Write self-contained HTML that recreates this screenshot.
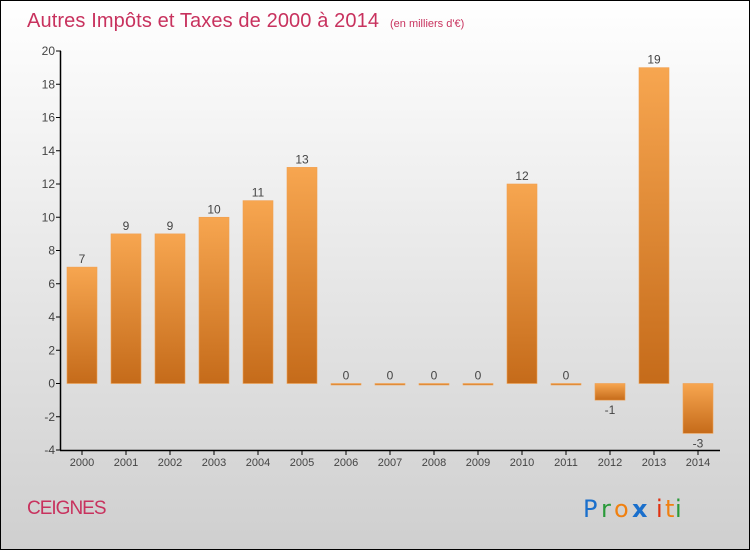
<!DOCTYPE html>
<html><head><meta charset="utf-8"><style>
html,body{margin:0;padding:0}
body{width:750px;height:550px;overflow:hidden;font-family:"Liberation Sans",sans-serif}
</style></head><body>
<svg width="750" height="550" xmlns="http://www.w3.org/2000/svg">
<defs>
<linearGradient id="bg" x1="0" y1="0" x2="0" y2="1"><stop offset="0" stop-color="#ffffff"/><stop offset="1" stop-color="#cfcfcf"/></linearGradient>
<linearGradient id="bar" x1="0" y1="0" x2="0" y2="1"><stop offset="0" stop-color="#f7a650"/><stop offset="1" stop-color="#c56b1a"/></linearGradient>
</defs>
<rect x="0.5" y="0.5" width="749" height="549" fill="url(#bg)" stroke="#000"/>
<text x="27" y="27" font-size="20" fill="#c8325e" textLength="352">Autres Impôts et Taxes de 2000 à 2014</text>
<text x="390" y="27" font-size="11" fill="#c8325e">(en milliers d'€)</text>
<g id="plot"></g>
<text x="27" y="514" font-size="19" fill="#c8325e" letter-spacing="-1">CEIGNES</text>
<g font-size="24" font-family="'DejaVu Sans',sans-serif">
<text x="583" y="517" fill="#1a6fcc">P</text><text x="601" y="517" fill="#2a9a3a">r</text><text x="614" y="517" fill="#f08010">o</text><text x="632" y="517" fill="#1a6fcc" font-weight="bold">x</text><text x="656" y="517" fill="#e03010">i</text><text x="665" y="517" fill="#f08010">t</text><text x="675" y="517" fill="#2a9a3a">i</text>
</g>
</svg>
<script>
const categories=["2000","2001","2002","2003","2004","2005","2006","2007","2008","2009","2010","2011","2012","2013","2014"];
const values=[7,9,9,10,11,13,0,0,0,0,12,0,-1,19,-3];
const yTicks=[-4,-2,0,2,4,6,8,10,12,14,16,18,20];
const NS="http://www.w3.org/2000/svg";
const g=document.getElementById('plot');
const y=v=>450-(v+4)*16.625;
const x=i=>82+i*44;
function mk(t,a){const e=document.createElementNS(NS,t);for(const k in a)e.setAttribute(k,a[k]);g.appendChild(e);return e;}
values.forEach((v,i)=>{
 const top=Math.min(y(v),y(0)),h=Math.max(Math.abs(y(v)-y(0)),1.5);
 const r=mk('rect',{x:x(i)-15,y:top,width:30,height:h,fill:'url(#bar)',stroke:'#f0a050','stroke-width':0.6});
 
 
 const t=mk('text',{x:x(i),y:v>=0?y(v)-4:y(v)+14,'font-size':12,fill:'#444','text-anchor':'middle'});
 t.textContent=v;
 
 
 const tl=mk('line',{x1:x(i),x2:x(i),y1:450,y2:455,stroke:'#000'});
 
 
 const xl=mk('text',{x:x(i),y:466,'font-size':11,fill:'#444','text-anchor':'middle'});
 xl.textContent=categories[i];
 
 
});
yTicks.forEach(v=>{
 const l=mk('line',{x1:56,x2:61,y1:y(v),y2:y(v),stroke:'#000'});
 
 
 const t=mk('text',{x:55,y:y(v)+4,'font-size':12,fill:'#444','text-anchor':'end'});
 t.textContent=v;
 
 
});
const ya=mk('line',{x1:60.5,x2:60.5,y1:y(20),y2:450.5,stroke:'#000','stroke-width':1.5});


const xa=mk('line',{x1:60,x2:720,y1:450.5,y2:450.5,stroke:'#000','stroke-width':1.5});


</script>
</body></html>
